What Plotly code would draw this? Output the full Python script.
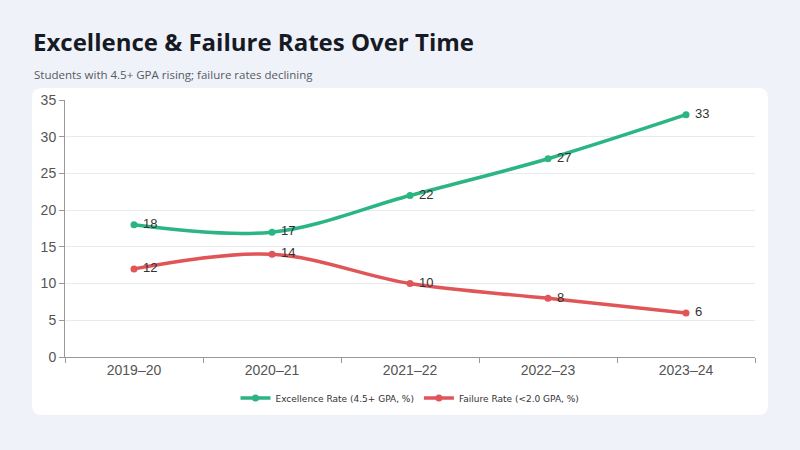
import plotly.graph_objects as go

years = ["2019–20", "2020–21", "2021–22", "2022–23", "2023–24"]
excellence = [18, 17, 22, 27, 33]
failure = [12, 14, 10, 8, 6]

GREEN = "#2bb583"
RED = "#e05558"


def rounded_rect(x0, y0, x1, y1, r):
    rx, ry = r
    return (f"M{x0+rx},{y0} L{x1-rx},{y0} Q{x1},{y0} {x1},{y0+ry} "
            f"L{x1},{y1-ry} Q{x1},{y1} {x1-rx},{y1} L{x0+rx},{y1} "
            f"Q{x0},{y1} {x0},{y1-ry} L{x0},{y0+ry} Q{x0},{y0} {x0+rx},{y0} Z")


fig = go.Figure()
fig.add_trace(go.Scatter(x=years, y=excellence, name="Excellence Rate (4.5+ GPA, %)",
                         mode="lines+markers+text", line=dict(color=GREEN, width=3.5, shape="spline"),
                         marker=dict(size=7, color=GREEN), text=["\u00a0" + str(v) for v in excellence],
                         textposition="middle right", textfont=dict(size=13, color="#333333")))
fig.add_trace(go.Scatter(x=years, y=failure, name="Failure Rate (<2.0 GPA, %)",
                         mode="lines+markers+text", line=dict(color=RED, width=3.5, shape="spline"),
                         marker=dict(size=7, color=RED), text=["\u00a0" + str(v) for v in failure],
                         textposition="middle right", textfont=dict(size=13, color="#333333")))

# white card behind the chart
W, H = 800, 450
ml, mr, mt, mb = 65, 45, 100, 93
pw, ph = W - ml - mr, H - mt - mb


def px(x):
    return (x - ml) / pw


def py(y):
    return (H - mb - y) / ph


fig.add_shape(type="path", xref="paper", yref="paper", layer="below",
              path=rounded_rect(px(32), py(415), px(768), py(88), (10 / pw, 10 / ph)),
              fillcolor="white", line=dict(width=0))

fig.add_annotation(text="<b>Excellence & Failure Rates Over Time</b>", xref="paper", yref="paper",
                   x=px(31), y=py(42), xanchor="left", yanchor="middle", showarrow=False,
                   font=dict(family="Open Sans", size=24, color="#161a24"))
fig.add_annotation(text="Students with 4.5+ GPA rising; failure rates declining", xref="paper", yref="paper",
                   x=px(32), y=py(75), xanchor="left", yanchor="middle", showarrow=False,
                   font=dict(family="Open Sans", size=11.5, color="#555a63"))

fig.update_layout(
    width=W, height=H,
    margin=dict(l=ml, r=mr, t=mt, b=mb),
    paper_bgcolor="#f0f2f9", plot_bgcolor="white",
    font=dict(family="Liberation Sans, Arial", color="#555555"),
    showlegend=True,
    legend=dict(orientation="h", x=0.5, xanchor="center", y=py(398), yanchor="middle",
                itemwidth=30,
                font=dict(family="DejaVu Sans", size=9, color="#333333"), bgcolor="rgba(0,0,0,0)"),
    xaxis=dict(range=[-0.5, 4.5], showline=True, linecolor="#999999", linewidth=1, ticks="outside",
               tickcolor="#999999", ticklen=5, tickson="boundaries", showgrid=False,
               tickfont=dict(size=14, color="#555555")),
    yaxis=dict(range=[0, 35], dtick=5, showline=True, linecolor="#999999", linewidth=1, ticks="outside",
               tickcolor="#999999", ticklen=5, gridcolor="#e9eaf0", zeroline=False,
               tickfont=dict(size=14, color="#555555")),
)

fig.write_html("out.html", config={"displayModeBar": False},
               post_script="document.body.style.margin='0';document.body.style.background='#f0f2f9';")
